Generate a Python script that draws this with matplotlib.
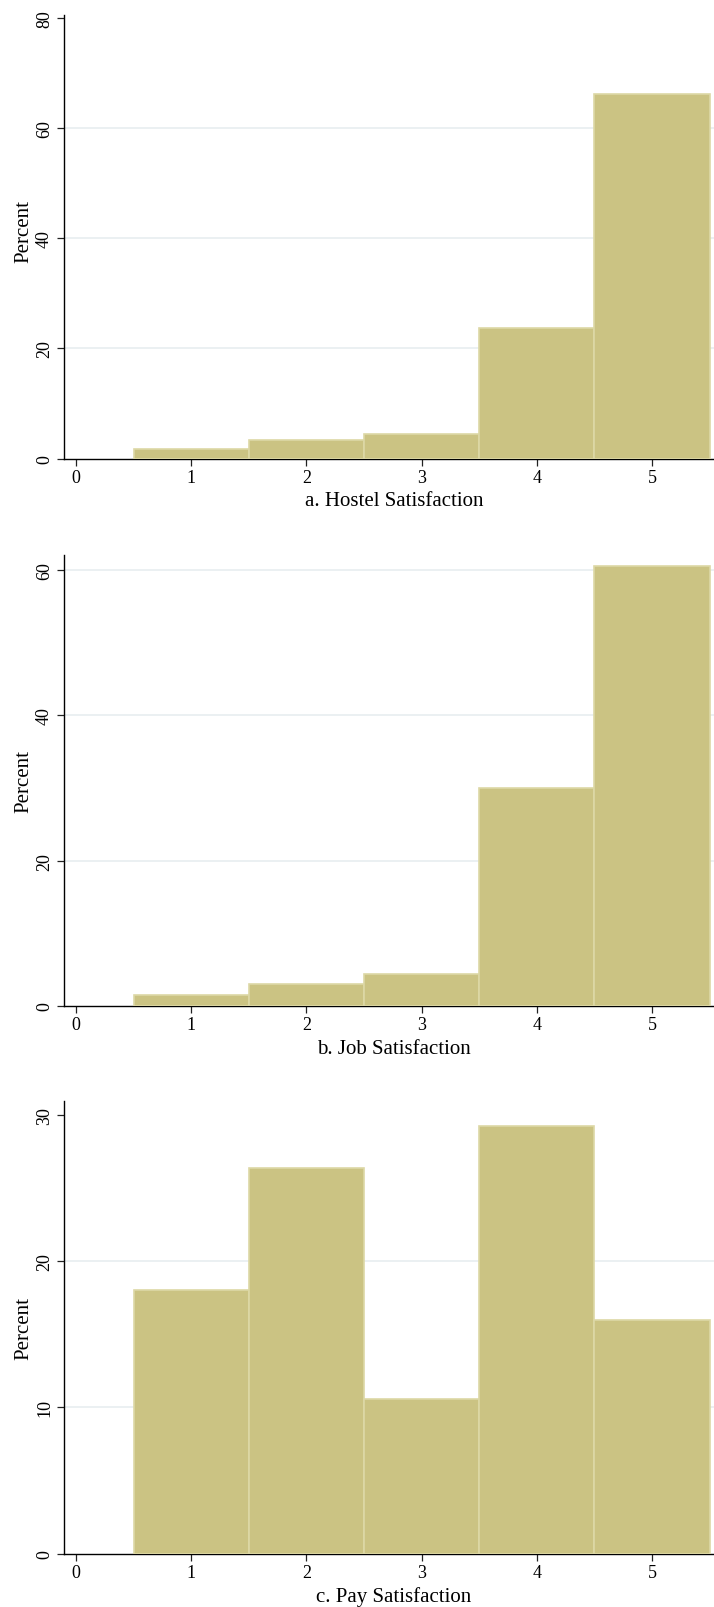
import matplotlib
matplotlib.use("Agg")
import matplotlib.pyplot as plt

# ---- data ----
categories = [1, 2, 3, 4, 5]
hostel_pct = [1.67, 3.41, 4.50, 23.65, 66.25]
job_pct = [1.56, 2.98, 4.45, 30.0, 60.5]
pay_pct = [18.04, 26.34, 10.55, 29.2, 15.95]
x_ticks = [0, 1, 2, 3, 4, 5]
xlabels = ["a. Hostel Satisfaction", "b. Job Satisfaction", "c. Pay Satisfaction"]
yticks_list = [[0, 20, 40, 60, 80], [0, 20, 40, 60], [0, 10, 20, 30]]
ylims = [80.55, 62.1, 30.92]

plt.rcParams['font.family'] = ['Liberation Serif', 'DejaVu Serif']

FILL = '#CBC383'
EDGE = '#DDD8A6'
GRID = '#E8EEF0'

W, H = 714, 1608
fig = plt.figure(figsize=(W / 100, H / 100), dpi=100)

# axes placement in pixels: (top, bottom)
panels_px = [(16.0, 459.5), (555.7, 1007.0), (1102.3, 1554.7)]
left_px = 64.3
series = [hostel_pct, job_pct, pay_pct]
ylabel_y = [0.515, 0.5, 0.5]

for i, (top, bot) in enumerate(panels_px):
    ax = fig.add_axes([left_px / W, (H - bot) / H, (W - left_px) / W, (bot - top) / H])
    ax.set_xlim(-0.1016, 5.538)
    ax.set_ylim(0, ylims[i])
    ax.bar(categories, series[i], width=1.0, color=FILL, edgecolor=EDGE,
           linewidth=1.2, zorder=3)
    yt = yticks_list[i]
    for v in yt[1:]:
        if v < ylims[i] - 1:
            ax.axhline(v, color=GRID, linewidth=1.2, zorder=1)
    ax.set_yticks(yt)
    ax.set_xticks(x_ticks)
    ax.spines['top'].set_visible(False)
    ax.spines['right'].set_visible(False)
    for s in ['left', 'bottom']:
        ax.spines[s].set_linewidth(1.0)
        ax.spines[s].set_color('black')
    ax.tick_params(axis='both', direction='out', length=4.8, width=0.9,
                   color='#222222', labelsize=13)
    ax.tick_params(axis='x', pad=2.6)
    ax.tick_params(axis='y', pad=3.3, labelrotation=90)
    for lab in ax.get_yticklabels():
        lab.set_verticalalignment('center')
    ax.set_xlabel(xlabels[i], fontsize=15)
    ax.set_ylabel('Percent', fontsize=15)
    h = bot - top
    ax.xaxis.set_label_coords((394.0 - left_px) / (W - left_px), -32.5 / h)
    ax.yaxis.set_label_coords((33.0 - left_px) / (W - left_px), ylabel_y[i])

fig.savefig('out.png', dpi=100)
